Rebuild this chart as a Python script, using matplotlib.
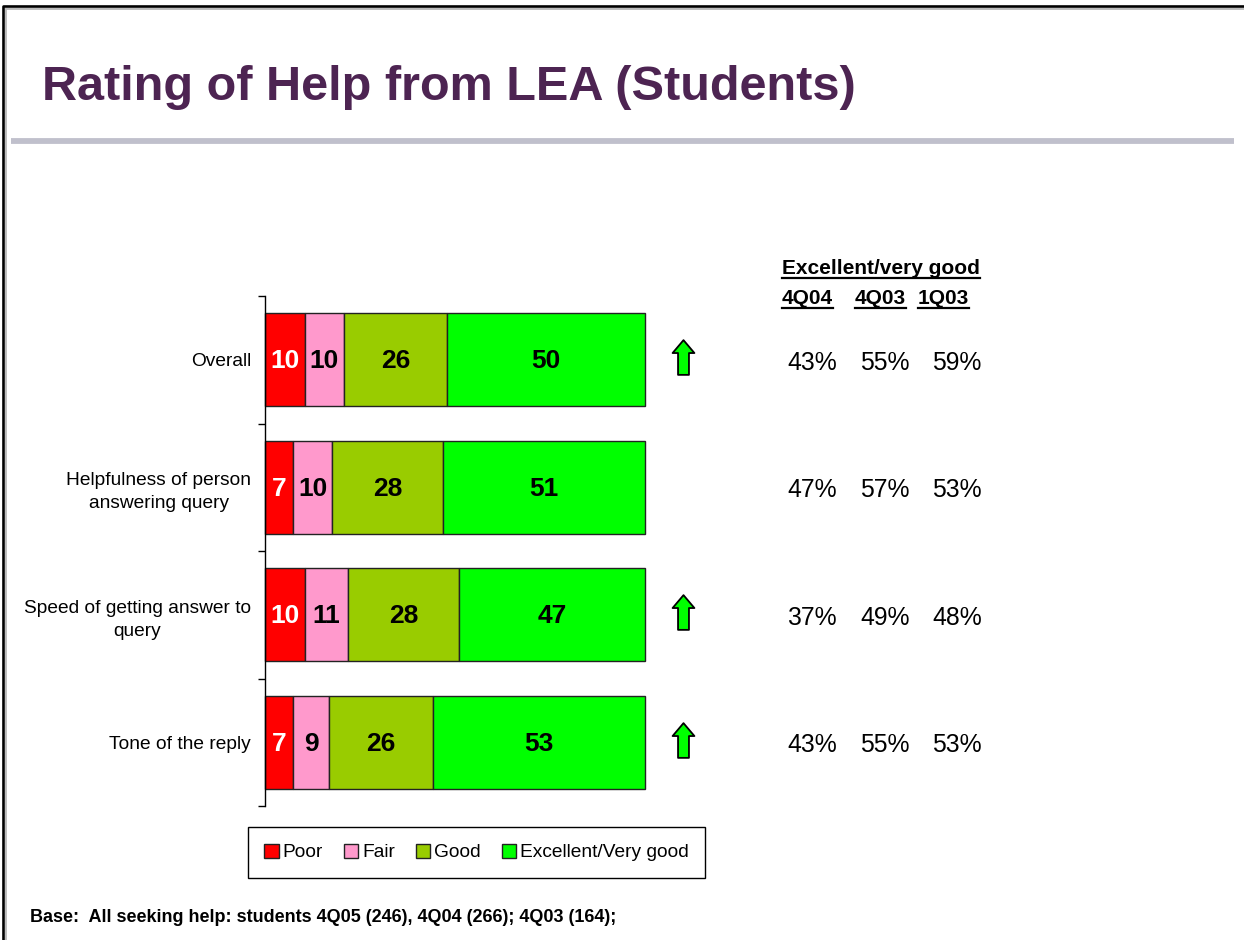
import matplotlib
matplotlib.use("Agg")
import matplotlib.pyplot as plt
from matplotlib.path import Path
from matplotlib.lines import Line2D
from matplotlib.patches import Patch
import matplotlib.transforms as mtransforms
import numpy as np

plt.rcParams['font.family'] = ['Liberation Sans', 'DejaVu Sans']

# ---------------- data ----------------
categories = ["Overall", "Helpfulness of person\nanswering query",
              "Speed of getting answer to\nquery", "Tone of the reply"]
series_names = ["Poor", "Fair", "Good", "Excellent/Very good"]
poor = [10, 7, 10, 7]
fair = [10, 10, 11, 9]
good = [26, 28, 28, 26]
excellent = [50, 51, 47, 53]
significant_up = [True, False, True, True]

table_header = "Excellent/very good"
table_columns = ["4Q04", "4Q03", "1Q03"]
col_4q04 = ["43%", "47%", "37%", "43%"]
col_4q03 = ["55%", "57%", "49%", "55%"]
col_1q03 = ["59%", "53%", "48%", "53%"]

title = "Rating of Help from LEA (Students)"
footnote = "Base:  All seeking help: students 4Q05 (246), 4Q04 (266); 4Q03 (164);"

colors = ["#FF0000", "#FF99CC", "#99CC00", "#00FF00"]
label_colors = ["white", "black", "black", "black"]

W, H = 1244, 940
fig = plt.figure(figsize=(W / 100, H / 100), dpi=100)

def fx(px):
    return px / W

def fy(py):
    return 1 - py / H

# frame border (top + left)
fig.add_artist(Line2D([fx(4), fx(4), 1.0], [0.0, fy(7), fy(7)],
                      color="#BBBBBB", lw=3.5, transform=fig.transFigure))
fig.add_artist(Line2D([fx(3), fx(3), 1.0], [0.0, fy(6), fy(6)],
                      color="black", lw=1.8, transform=fig.transFigure))

# title
fig.text(fx(42), fy(100), title, fontsize=35, fontweight="bold",
         color="#4D2452", ha="left", va="baseline")
# grey rule
fig.add_artist(Line2D([fx(11), fx(1234)], [fy(140.5), fy(140.5)],
                      color="#C0C0CC", lw=4.2, transform=fig.transFigure,
                      solid_capstyle="butt"))

# ---------------- axes (100% stacked) ----------------
ax = fig.add_axes([fx(265), fy(806), fx(645) - fx(265), fy(296) - fy(806)])
y = np.arange(len(categories))
series = [np.array(s, dtype=float) for s in [poor, fair, good, excellent]]
totals = np.sum(series, axis=0)
left = np.zeros(len(categories))
for vals, col, lc, name in zip(series, colors, label_colors, series_names):
    share = vals / totals * 100
    bars = ax.barh(y, share, left=left, height=0.73, color=col,
                   edgecolor="#222222", linewidth=1.0, label=name)
    for b, v in zip(bars, vals):
        b.set_clip_on(False)
        ax.text(b.get_x() + b.get_width() / 2,
                b.get_y() + b.get_height() / 2 + 0.01,
                f"{int(v)}", ha="center", va="center", fontsize=19,
                fontweight="bold", color=lc)
    left += share

ax.set_xlim(0, 100)
ax.set_ylim(len(categories) - 0.5, -0.5)
ax.set_yticks(y)
ax.set_yticklabels(categories, fontsize=13.8)
for lbl in ax.get_yticklabels():
    lbl.set_multialignment("center")
    lbl.set_linespacing(1.45)
ax.set_yticks(np.arange(-0.5, len(categories), 1.0), minor=True)
ax.tick_params(axis="y", which="major", length=0, pad=10)
ax.tick_params(axis="y", which="minor", length=5, width=1, direction="out")
ax.set_xticks([])
for s in ["top", "right", "bottom"]:
    ax.spines[s].set_visible(False)
ax.spines["left"].set_linewidth(1.0)
ax.spines["left"].set_zorder(3)
ax.set_facecolor("none")

# significance arrows
arrow_verts = [(0, 17.5), (11, 4.5), (5.5, 4.5), (5.5, -17.5), (-5.5, -17.5),
               (-5.5, 4.5), (-11, 4.5), (0, 17.5)]
arrow_path = Path(arrow_verts, closed=True)
for yi, sig in zip(y, significant_up):
    if sig:
        ax.plot([110.0], [yi - 0.02], marker=arrow_path, ms=25,
                mfc="#00FF00", mec="black", mew=1.3, clip_on=False,
                linestyle="none")

# table at right
blend = mtransforms.blended_transform_factory(fig.transFigure, ax.transData)
col_x = [812, 885, 957]
for cx, colvals in zip(col_x, [col_4q04, col_4q03, col_1q03]):
    for yi, v in zip(y, colvals):
        ax.text(fx(cx), yi + 0.025, v, transform=blend, ha="center",
                va="center", fontsize=17.8)

hdr = fig.text(fx(782), fy(268), table_header, fontsize=15,
               fontweight="bold", ha="left", va="center")
col_left = [782, 855, 918]
col_texts = []
for cl, name in zip(col_left, table_columns):
    col_texts.append(fig.text(fx(cl), fy(298), name, fontsize=15,
                              fontweight="bold", ha="left", va="center"))

# legend
handles = [Patch(facecolor=c, edgecolor="#222222", linewidth=1.0) for c in colors]
leg = fig.legend(handles, series_names, loc="center",
                 bbox_to_anchor=(fx(476.5), fy(852.5)), ncol=4, fontsize=13.8,
                 frameon=True, fancybox=False, edgecolor="black",
                 framealpha=1, handlelength=0.75, handleheight=0.75,
                 handletextpad=0.2, columnspacing=1.1, borderpad=0.85,
                 borderaxespad=0)
leg.get_frame().set_linewidth(1.0)

# footnote
fig.text(fx(30), fy(918), footnote, fontsize=13, fontweight="bold",
         ha="left", va="center")

# underlines for header texts
fig.canvas.draw()
renderer = fig.canvas.get_renderer()
for t in [hdr] + col_texts:
    bb = t.get_window_extent(renderer)
    yline = bb.y0 - 0.5
    fig.add_artist(Line2D([bb.x0 / W, bb.x1 / W], [yline / H, yline / H],
                          color="black", lw=1.6, transform=fig.transFigure))

fig.savefig("out.png", dpi=100)
